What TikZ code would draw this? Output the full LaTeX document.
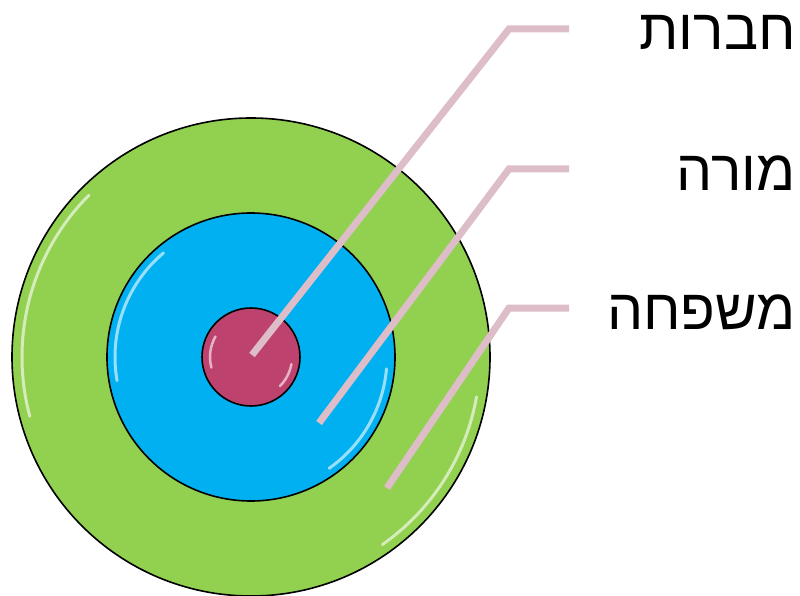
\documentclass[tikz,border=0pt]{standalone}
\usepackage{fontspec}
\newfontfamily\hebfont[Script=Hebrew]{Liberation Sans}
\TeXXeTstate=1
\definecolor{ringgreen}{HTML}{92D050}
\definecolor{ringblue}{HTML}{00B0F0}
\definecolor{ringred}{HTML}{BE426E}
\definecolor{leader}{HTML}{DDBDC8}
\begin{document}
\begin{tikzpicture}[x=1pt,y=-1pt,
  ring/.style={draw=black,line width=1.6pt},
  gloss/.style={white,opacity=0.6,line width=3pt,line cap=round},
  leaderline/.style={draw=leader,line width=7pt},
  label/.style={font=\hebfont\fontsize{57}{66}\selectfont,anchor=base east,inner sep=0pt}]
\useasboundingbox (0,0) rectangle (800,596);
% circles
\node[ring,circle,fill=ringgreen,minimum size=478pt,inner sep=0pt] (outer) at (251,357) {};
\draw[gloss] (251,357) ++(-135:229) arc[start angle=-135,end angle=-195,radius=229];
\draw[gloss] (251,357) ++(10:229) arc[start angle=10,end angle=55,radius=229];
\node[ring,circle,fill=ringblue,minimum size=288pt,inner sep=0pt] (mid) at (251,357) {};
\draw[gloss] (251,357) ++(-130:136) arc[start angle=-130,end angle=-190,radius=136];
\draw[gloss] (251,357) ++(5:136) arc[start angle=5,end angle=55,radius=136];
\node[ring,circle,fill=ringred,minimum size=98pt,inner sep=0pt] (inner) at (251,357) {};
\draw[gloss,line width=2.5pt] (251,357) ++(-150:41) arc[start angle=-150,end angle=-195,radius=41];
\draw[gloss,line width=2.5pt] (251,357) ++(10:41) arc[start angle=10,end angle=45,radius=41];
% leader points
\coordinate (p1) at (252,355);
\coordinate (b1) at (509,29);
\coordinate (e1) at (569,29);
\coordinate (p2) at (319,423);
\coordinate (b2) at (509,169);
\coordinate (e2) at (569,169);
\coordinate (p3) at (387,488);
\coordinate (b3) at (509,308);
\coordinate (e3) at (569,308);
\draw[leaderline] (p1) -- (b1) -- (e1);
\draw[leaderline] (p2) -- (b2) -- (e2);
\draw[leaderline] (p3) -- (b3) -- (e3);
% labels
\node[label] (t1) at (796,50) {\beginR חברות\endR};
\node[label] (t2) at (796,190) {\beginR מורה\endR};
\node[label] (t3) at (796,329) {\beginR משפחה\endR};
\end{tikzpicture}
\end{document}
